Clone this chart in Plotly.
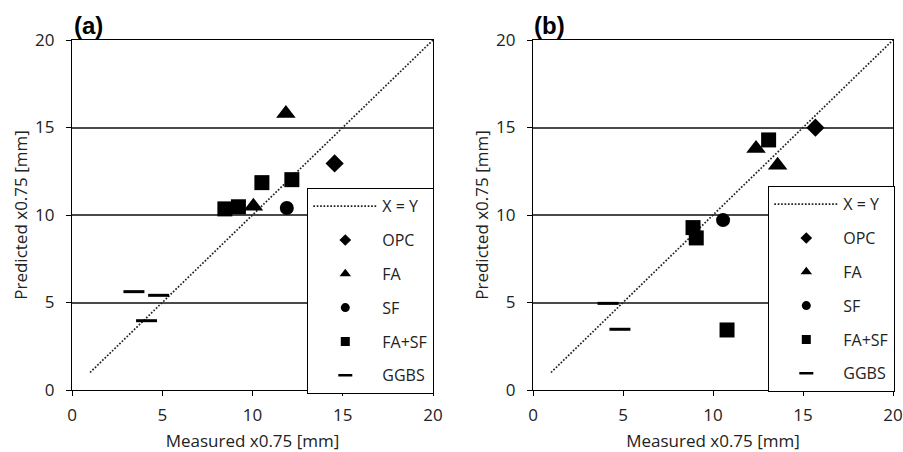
import plotly.graph_objects as go

# ---- data ----
ticks = [0, 5, 10, 15, 20]
xy_line = [1, 20]

a_opc_x = [14.55]; a_opc_y = [12.95]
a_fa_x = [11.85, 10.05]; a_fa_y = [15.8, 10.5]
a_sf_x = [11.9]; a_sf_y = [10.4]
a_fasf_x = [8.47, 9.22, 10.52, 12.18]; a_fasf_y = [10.35, 10.47, 11.85, 12.02]
a_ggbs_x = [3.43, 4.8, 4.13]; a_ggbs_y = [5.62, 5.41, 3.96]

b_opc_x = [15.69]; b_opc_y = [14.99]
b_fa_x = [12.39, 13.59]; b_fa_y = [13.8, 12.85]
b_sf_x = [10.56]; b_sf_y = [9.71]
b_fasf_x = [8.89, 9.07, 13.09, 10.78]; b_fasf_y = [9.28, 8.69, 14.29, 3.43]
b_ggbs_x = [4.17, 4.83]; b_ggbs_y = [4.95, 3.47]

FONT = "Open Sans"
TXT = "#222"

series = [
    ("OPC", "diamond", 14, 9),
    ("FA", "triangle-up", 17, 10),
    ("SF", "circle", 14, 9),
    ("FA+SF", "square", 15, 9),
    ("GGBS", "line-ew", 15, 10),
]

panels = [
    ("x", "y", "legend", [a_opc_x, a_fa_x, a_sf_x, a_fasf_x, a_ggbs_x],
     [a_opc_y, a_fa_y, a_sf_y, a_fasf_y, a_ggbs_y]),
    ("x2", "y2", "legend2", [b_opc_x, b_fa_x, b_sf_x, b_fasf_x, b_ggbs_x],
     [b_opc_y, b_fa_y, b_sf_y, b_fasf_y, b_ggbs_y]),
]

fig = go.Figure()
for xa, ya, lg, xs, ys in panels:
    fig.add_trace(go.Scatter(x=xy_line, y=xy_line, mode="lines", name="X = Y",
                             line=dict(color="#222", width=1.7, dash="1.7px,1.7px"),
                             xaxis=xa, yaxis=ya, legend=lg, legendgroup=lg + "xy"))
    for (name, sym, size, lsize), xv, yv in zip(series, xs, ys):
        is_line = sym == "line-ew"
        marker = dict(symbol=sym, size=size, color="black",
                      line=dict(color="black", width=3 if is_line else 0))
        fig.add_trace(go.Scatter(x=xv, y=yv, mode="markers", name=name,
                                 marker=marker, xaxis=xa, yaxis=ya,
                                 showlegend=False))
        lmarker = dict(symbol=sym, size=lsize, color="black",
                       line=dict(color="black", width=2.5 if is_line else 0))
        fig.add_trace(go.Scatter(x=[None], y=[None], mode="markers", name=name,
                                 marker=lmarker, xaxis=xa, yaxis=ya,
                                 legend=lg, legendgroup=lg + name))

axis_common = dict(range=[0, 20], tickvals=ticks, showline=True, mirror=True,
                   linecolor="black", linewidth=1.3, ticks="outside", ticklen=5,
                   tickcolor="black", zeroline=False, automargin=False,
                   tickfont=dict(family=FONT, size=17, color=TXT))
xax_extra = dict(ticklabelstandoff=4)
yax_extra = dict(ticklabelstandoff=8)
ydom = [1 - 390 / 452, 1 - 40 / 452]
xdom_a = [72 / 903, 433 / 903]
xdom_b = [533 / 903, 893 / 903]

title_font = dict(family=FONT, size=17, color=TXT)

legend_common = dict(bgcolor="white", bordercolor="black", borderwidth=1.3,
                     font=dict(family=FONT, size=16, color=TXT),
                     tracegroupgap=10, itemwidth=64, entrywidth=54,
                     xanchor="left", yanchor="top")

xt = dict(text="Measured x0.75 [mm]", font=title_font, standoff=11)
yt = dict(text="Predicted x0.75 [mm]", font=title_font, standoff=3)

fig.update_layout(
    width=903, height=452, margin=dict(l=0, r=0, t=0, b=0),
    paper_bgcolor="white", plot_bgcolor="white",
    xaxis=dict(axis_common, **xax_extra, domain=xdom_a, anchor="y", showgrid=False, title=xt),
    yaxis=dict(axis_common, **yax_extra, domain=ydom, anchor="x", showgrid=True,
               gridcolor="#4a4a4a", gridwidth=1.6, title=yt),
    xaxis2=dict(axis_common, **xax_extra, domain=xdom_b, anchor="y2", showgrid=False, title=xt),
    yaxis2=dict(axis_common, **yax_extra, domain=ydom, anchor="x2", showgrid=True,
                gridcolor="#4a4a4a", gridwidth=1.6, title=yt),
    legend=dict(legend_common, x=307 / 903, y=1 - 188 / 452),
    legend2=dict(legend_common, x=768 / 903, y=1 - 186 / 452),
    annotations=[
        dict(text="<b>(a)</b>", x=72 / 903, y=1 - 25 / 452, xref="paper", yref="paper",
             xanchor="left", yanchor="middle", showarrow=False,
             font=dict(family="Liberation Sans", size=24, color="black")),
        dict(text="<b>(b)</b>", x=532 / 903, y=1 - 25 / 452, xref="paper", yref="paper",
             xanchor="left", yanchor="middle", showarrow=False,
             font=dict(family="Liberation Sans", size=24, color="black")),
    ],
)

fig.write_html("out.html", config={"displayModeBar": False},
               post_script="document.body.style.margin='0';")
